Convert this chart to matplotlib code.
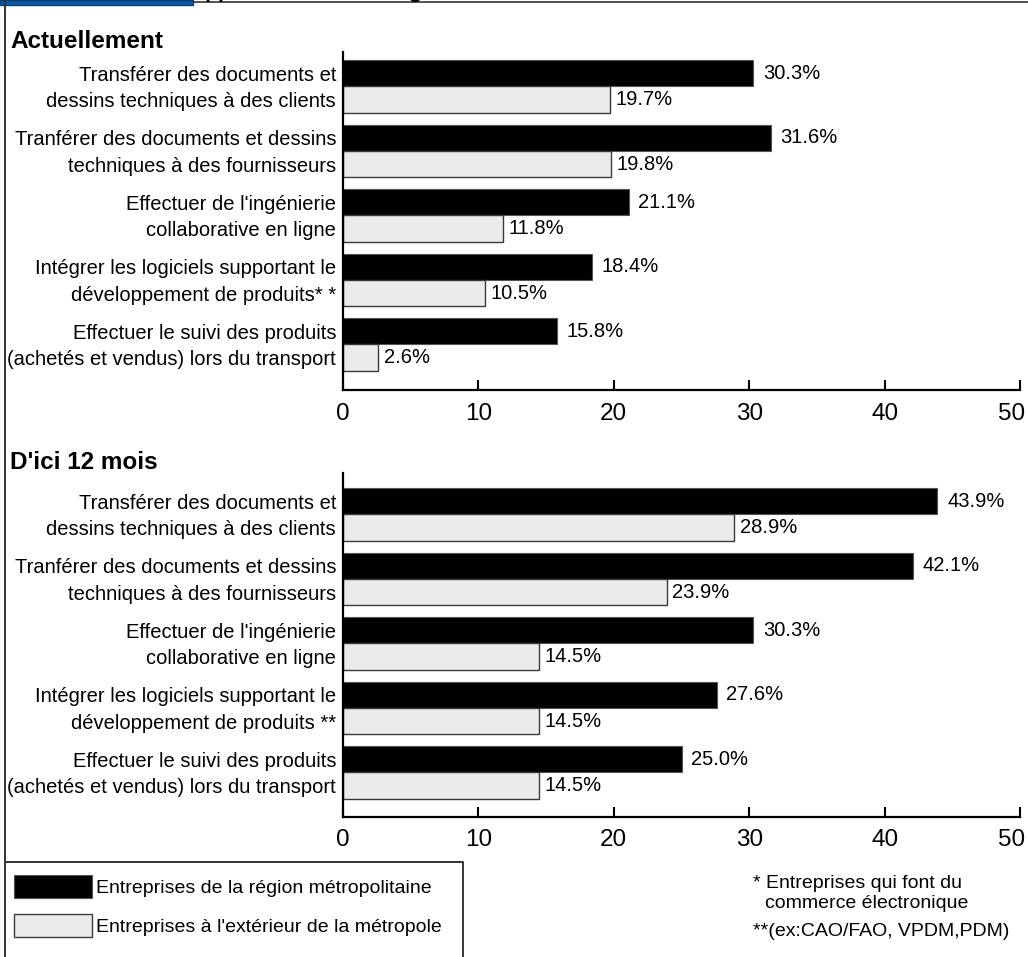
import matplotlib
matplotlib.use('Agg')
import matplotlib.pyplot as plt
from matplotlib import font_manager
from matplotlib.lines import Line2D
from matplotlib.patches import Rectangle
import numpy as np

# fonts
names = set(f.name for f in font_manager.fontManager.ttflist)
NARROW = 'Liberation Sans Narrow' if 'Liberation Sans Narrow' in names else 'Liberation Sans'
REG = 'Liberation Sans'
plt.rcParams['font.family'] = [NARROW, 'DejaVu Sans']
FS = 14.5 if NARROW == 'Liberation Sans' else 17

###################################
# data
###################################
cat_line1 = ["Transférer des documents et",
             "Tranférer des documents et dessins",
             "Effectuer de l'ingénierie",
             "Intégrer les logiciels supportant le",
             "Effectuer le suivi des produits"]
cat_line2_now = ["dessins techniques à des clients",
                 "techniques à des fournisseurs",
                 "collaborative en ligne",
                 "développement de produits* *",
                 "(achetés et vendus) lors du transport"]
cat_line2_12m = ["dessins techniques à des clients",
                 "techniques à des fournisseurs",
                 "collaborative en ligne",
                 "développement de produits **",
                 "(achetés et vendus) lors du transport"]

now_metro = [30.3, 31.6, 21.1, 18.4, 15.8]
now_ext = [19.7, 19.8, 11.8, 10.5, 2.6]
m12_metro = [43.9, 42.1, 30.3, 27.6, 25.0]
m12_ext = [28.9, 23.9, 14.5, 14.5, 14.5]

series_names = ["Entreprises de la région métropolitaine",
                "Entreprises à l'extérieur de la métropole"]
xticks = [0, 10, 20, 30, 40, 50]

W, H = 1028, 957
fig = plt.figure(figsize=(W / 100, H / 100), dpi=100)

LIGHT = '#ebebeb'
EDGE = '#3a3a3a'
h = 0.41


def px_axes(left, top, right, bottom):
    return fig.add_axes([left / W, 1 - bottom / H, (right - left) / W, (bottom - top) / H])


def draw_panel(ax, metro, ext, line2, ylim):
    y = np.arange(len(metro))
    b1 = ax.barh(y - h / 2, metro, height=h, color='black', edgecolor='#555555', lw=0.8)
    b2 = ax.barh(y + h / 2, ext, height=h, color=LIGHT, edgecolor=EDGE, lw=1.0)
    for yy, v in zip(y - h / 2, metro):
        ax.annotate('%.1f%%' % v, (v, yy), xytext=(7, 0), textcoords='offset points',
                    va='center', ha='left', fontsize=FS)
    for yy, v in zip(y + h / 2, ext):
        ax.annotate('%.1f%%' % v, (v, yy), xytext=(4, 0), textcoords='offset points',
                    va='center', ha='left', fontsize=FS)
    ax.set_xlim(0, 50)
    ax.set_ylim(*ylim)
    ax.set_xticks(xticks)
    # last tick label is drawn apart so it stays inside the picture
    ax.set_xticklabels([str(t) for t in xticks[:-1]] + [''], fontsize=17.5, family=REG)
    ax.annotate(str(xticks[-1]), (xticks[-1], 0), xycoords=('data', 'axes fraction'),
                xytext=(-6, -9), textcoords='offset points', ha='center', va='top',
                fontsize=17.5, family=REG)
    ypos = np.ravel(np.column_stack([y - h / 2, y + h / 2]))
    labs = [s for pair in zip(cat_line1, line2) for s in pair]
    ax.set_yticks(ypos)
    ax.set_yticklabels(labs, fontsize=FS)
    ax.tick_params(axis='y', length=0, pad=5)
    ax.tick_params(axis='x', direction='in', length=7, width=1.5, pad=9)
    for s in ['top', 'right']:
        ax.spines[s].set_visible(False)
    for s in ['left', 'bottom']:
        ax.spines[s].set_linewidth(1.6)
    return b1, b2


ax1 = px_axes(343, 52, 1020, 390)
bars = draw_panel(ax1, now_metro, now_ext, cat_line2_now, (4.706, -0.534))
ax2 = px_axes(343, 473, 1020, 817)
draw_panel(ax2, m12_metro, m12_ext, cat_line2_12m, (4.69, -0.643))

# panel titles
fig.text(10 / W, 1 - 41 / H, "Actuellement", fontsize=17.5, fontweight='bold', va='center')
fig.text(10 / W, 1 - 462 / H, "D'ici 12 mois", fontsize=17.5, fontweight='bold', va='center')

# frame and header remnants
fig.add_artist(Rectangle((0, 1 - 5 / H), 193 / W, 5 / H, transform=fig.transFigure,
                         facecolor='#0b5aa5', edgecolor='#0a3f75', lw=1))
fig.add_artist(Line2D([193 / W, 1], [1 - 2 / H, 1 - 2 / H], transform=fig.transFigure,
                      color='#333333', lw=1.2))
fig.add_artist(Line2D([5 / W, 5 / W], [0, 1], transform=fig.transFigure,
                      color='#333333', lw=1.4))
fig.text(190 / W, 1 + 2 / H, "Applications technologies", fontsize=15,
         fontweight='bold', va='baseline')

# legend box
fig.add_artist(Line2D([5 / W, 463 / W, 463 / W], [1 - 862 / H, 1 - 862 / H, 0],
                      transform=fig.transFigure, color='#333333', lw=1.4))
fig.legend(bars, series_names, loc='upper left',
           bbox_to_anchor=(14 / W, 1 - 875 / H), frameon=False, fontsize=14,
           handlelength=4.0, handleheight=1.45, labelspacing=0.8,
           handletextpad=0.2, borderpad=0, borderaxespad=0)

# footnotes
fig.text(753 / W, 1 - 884 / H, "* Entreprises qui font du", fontsize=14, va='center')
fig.text(765 / W, 1 - 903 / H, "commerce électronique", fontsize=14, va='center')
fig.text(753 / W, 1 - 932 / H, "**(ex:CAO/FAO, VPDM,PDM)", fontsize=14, va='center')

plt.savefig('out.png', dpi=100)
